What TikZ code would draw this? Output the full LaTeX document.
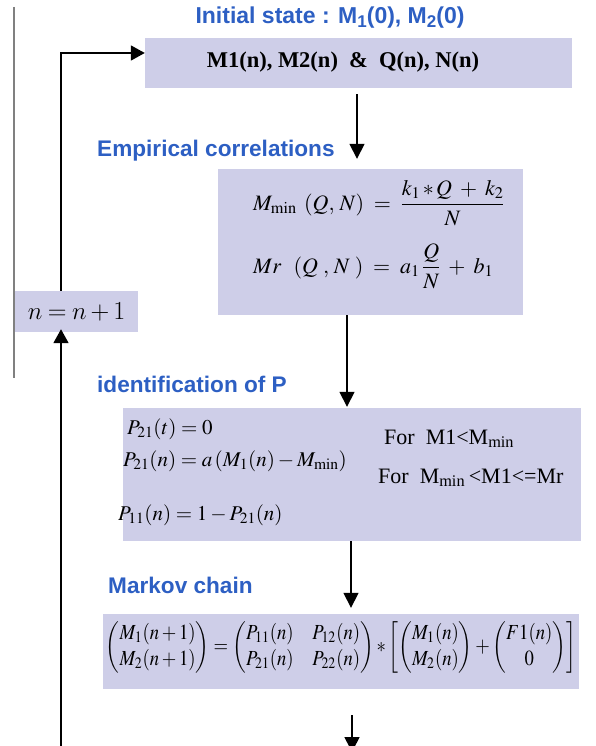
\documentclass[tikz,border=0pt]{standalone}
\usepackage{amsmath}
\usepackage{mathptmx}
\usepackage[no-math]{fontspec}
\setmainfont{Liberation Serif}
\newfontfamily\titlefont{Liberation Sans}
\usetikzlibrary{arrows.meta}
\definecolor{boxfill}{RGB}{206,206,232}
\definecolor{titleblue}{RGB}{45,95,195}
\definecolor{edgegray}{RGB}{128,128,128}
\newcommand{\cmn}{{\usefont{OML}{lmm}{m}{it}n}}
\newcommand{\cmr}[1]{{\usefont{TU}{lmr}{m}{n}#1}}
\newcommand{\bigsub}[1]{\raisebox{-4pt}{\fontsize{17}{19}\selectfont #1}}
\begin{document}
\begin{tikzpicture}[x=1pt,y=-1pt,
  stagebox/.style={fill=boxfill, draw=none, inner sep=0pt},
  heading/.style={font=\titlefont\bfseries\fontsize{22.6}{26}\selectfont, text=titleblue, inner sep=0pt},
  eqtext/.style={inner sep=0pt, anchor=west, font=\fontsize{21}{24}\selectfont},
  arr/.style={line width=1.8pt, -{Triangle[width=15pt,length=14pt]}},
  darr/.style={line width=1.6pt, -{Triangle[width=15pt,length=15pt]}}]
\useasboundingbox (0,0) rectangle (595,746);

% left gray rule
\coordinate (g1) at (14,7);
\coordinate (g2) at (14,378);
\draw[edgegray, line width=2pt] (g1) -- (g2);

% boxes
\node[stagebox, minimum width=427pt, minimum height=50pt] (b1) at (358.5,63) {};
\node[stagebox, minimum width=305pt, minimum height=146pt] (b2) at (370.5,242) {};
\node[stagebox, minimum width=458pt, minimum height=133pt] (b3) at (352,474.5) {};
\node[stagebox, minimum width=476pt, minimum height=75pt] (b4) at (341,651.5) {};
\node[stagebox, minimum width=123pt, minimum height=41pt, font=\fontsize{26}{30}\selectfont] (nb) at (76.5,311.5)
  {\cmn\hspace{5.5pt}\cmr{=}\hspace{5.5pt}\cmn\hspace{4pt}\cmr{+}\hspace{4pt}\cmr{1}};

% headings
\node[heading, font=\titlefont\bfseries\fontsize{23}{26}\selectfont] (h0) at (330,18) {Initial state : M\bigsub{1}(0), M\bigsub{2}(0)};
\node[heading, anchor=west] (h1) at (97,151) {Empirical correlations};
\node[heading, anchor=west] (h2) at (97,384) {identification of P};
\node[heading, anchor=west] (h3) at (108,585) {Markov chain};

% box 1 text
\node[inner sep=0pt, font=\bfseries\fontsize{22.5}{25}\selectfont] (t1) at (343,62) {M1(n), M2(n)\ \ \&\ \ Q(n), N(n)};

% box 2 equations
\node[eqtext, font=\fontsize{22}{25}\selectfont] (e1) at (253,203) {$M_{\min}\;\,(Q,\,N)\;=\;\dfrac{k_1\,{*}\,Q\;+\;k_2}{N}$};
\node[eqtext, font=\fontsize{22}{25}\selectfont] (e2) at (253,266) {$Mr\;\;\,(Q\;,\,N\;)\;=\;a_1\,\dfrac{Q}{N}\;+\;b_1$};

% box 3 equations
\node[eqtext] (p1) at (127,429) {$P_{21}(t) = 0$};
\node[eqtext] (p2) at (123,461) {$P_{21}(n) = a\,(M_1(n) - M_{\min})$};
\node[eqtext] (p3) at (118,515) {$P_{11}(n) = 1 - P_{21}(n)$};
\node[eqtext, font=\fontsize{22}{25}\selectfont] (p4) at (384,439) {For\ \ M1<M\textsubscript{min}};
\node[eqtext, font=\fontsize{22}{25}\selectfont] (p5) at (378,478) {For\ \ M\textsubscript{min}\,<M1<=Mr};

% box 4 equation
\node[inner sep=0pt] (mc) at (341,647) {\scalebox{1}[1.15]{\resizebox{470pt}{!}{$\left(\begin{array}{@{}c@{}}M_1(n+1)\\ M_2(n+1)\end{array}\right)=\left(\begin{array}{@{}cc@{}}P_{11}(n) & P_{12}(n)\\ P_{21}(n) & P_{22}(n)\end{array}\right)*\left[\left(\begin{array}{@{}c@{}}M_1(n)\\ M_2(n)\end{array}\right)+\left(\begin{array}{@{}c@{}}F1(n)\\ 0\end{array}\right)\right]$}}};

% connectors between stages
\coordinate (x1) at (357,0);
\coordinate (x2) at (347,0);
\coordinate (x3) at (351,0);
\coordinate (x4) at (352,0);
\coordinate (endpt) at (352,752);
\draw[darr, shorten <=6pt, shorten >=10pt] (x1 |- b1.south) -- (x1 |- b2.north);
\draw[darr, shorten >=1pt] (x2 |- b2.south) -- (x2 |- b3.north);
\draw[darr, shorten >=6pt] (x3 |- b3.south) -- (x3 |- b4.north);
\draw[darr, shorten <=26pt] (x4 |- b4.south) -- (endpt);

% feedback loop
\coordinate (top) at (61,53);
\coordinate (bot) at (61,750);
\draw[arr] (top |- nb.north) -- (top) -- ([yshift=10pt]b1.west);
\draw[arr, shorten >=-3pt] (bot) -- (top |- nb.south);
\end{tikzpicture}
\end{document}
